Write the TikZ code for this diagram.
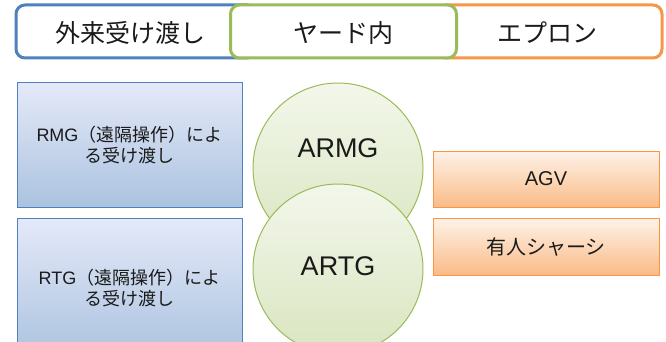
\documentclass[tikz,border=0pt]{standalone}
\usepackage{fontspec}
\setmainfont{Liberation Sans}
\newfontfamily\jp{Noto Sans CJK JP}
\definecolor{bblue}{HTML}{4F81BD}
\definecolor{bgreen}{HTML}{9BBB59}
\definecolor{borange}{HTML}{F79646}
\definecolor{txt}{HTML}{1A1A1A}
\tikzset{
  tab/.style={draw, line width=3pt, rounded corners=9pt, fill=white, minimum height=53pt, inner sep=0pt},
  leftbox/.style={draw=bblue, line width=1pt, top color=blue!4!white!90!bblue, bottom color=bblue!48!white, minimum width=225pt, inner sep=0pt, align=center, font=\fontsize{18}{21}\selectfont, text=txt},
  rightbox/.style={draw=borange, line width=1pt, top color=borange!12!white, bottom color=borange!65!white, minimum width=226pt, inner sep=0pt, align=center, font=\fontsize{20}{24}\selectfont, text=txt},
  crane/.style={circle, draw=bgreen, line width=1pt, top color=bgreen!12!white, bottom color=bgreen!38!white, minimum size=170pt, inner sep=0pt},
  cranetxt/.style={font=\fontsize{27}{30}\selectfont, text=txt},
  tabtxt/.style={font=\jp\fontsize{25}{28}\selectfont, text=txt}
}
\begin{document}
\begin{tikzpicture}[x=1pt,y=-1pt]
\useasboundingbox (0,0) rectangle (666,342);
\clip (0,0) rectangle (666,342);
% top tabs
\node[tab, draw=bblue, minimum width=240pt] (tabA) at (136,31.5) {};
\node[tab, draw=borange, minimum width=225pt] (tabC) at (549.5,31.5) {};
\node[tab, draw=bgreen, minimum width=226pt] (tabB) at (343.5,31.5) {};
\node[tabtxt] (tA) at (130,33) {外来受け渡し};
\node[tabtxt] (tB) at (343,33) {ヤード内};
\node[tabtxt] (tC) at (547,33) {エプロン};
% left boxes
\node[leftbox, minimum height=124pt] (rmg) at (129.5,145) {RMG{\jp（遠隔操作）によ}\\{\jp る受け渡し}};
\node[leftbox, minimum height=140pt] (rtg) at (129.5,288) {RTG{\jp（遠隔操作）によ}\\{\jp る受け渡し}};
% circles
\node[crane] (armg) at (338,168) {};
\node[cranetxt] (armgt) at (338,148) {ARMG};
\node[crane] (artg) at (338,269) {};
\node[cranetxt] (artgt) at (338,266) {ARTG};
% right boxes
\node[rightbox, minimum height=56pt] (agv) at (546,179) {AGV};
\node[rightbox, minimum height=57pt] (chassis) at (546,246.5) {\jp 有人シャーシ};
\end{tikzpicture}
\end{document}
